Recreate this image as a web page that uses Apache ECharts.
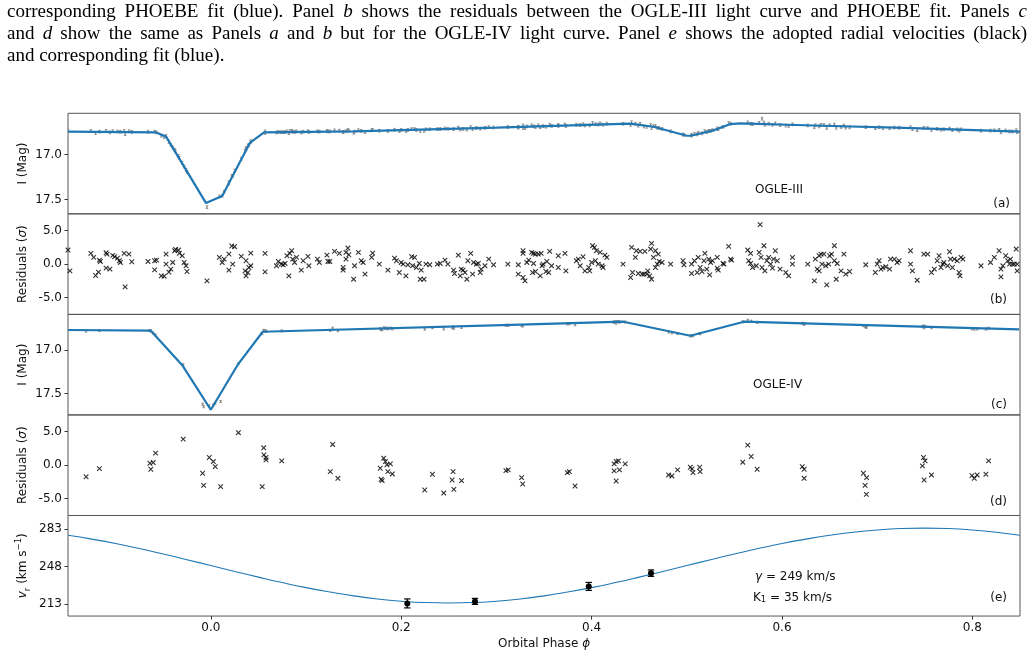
<!DOCTYPE html>
<html><head><meta charset="utf-8">
<script src="https://cdn.jsdelivr.net/npm/echarts@6/dist/echarts.min.js"></script>
<style>html,body{margin:0;padding:0;background:#fff}#c{width:1035px;height:657px}</style>
</head><body><div id="c"></div>
<script>
// ---------- tick labels ----------
const phaseTicks = [0.0, 0.2, 0.4, 0.6, 0.8];
const magTicks = [17.0, 17.5];
const residTicks = [-5.0, 0.0, 5.0];
const rvTicks = [213, 248, 283];

// ---------- OGLE-III ----------
const ogle3Model = [[-0.15,16.745],[-0.058,16.752],[-0.047,16.80],[-0.005,17.54],[0.012,17.46],[0.041,16.87],[0.056,16.752],[0.15,16.742],[0.30,16.70],[0.44,16.655],[0.465,16.69],[0.50,16.79],[0.504,16.79],[0.528,16.73],[0.546,16.66],[0.556,16.653],[0.633,16.676],[0.738,16.706],[0.85,16.745]];
const ogle3Obs = [[-0.150,16.733],[-0.126,16.737],[-0.121,16.760],[-0.117,16.744],[-0.110,16.736],[-0.106,16.753],[-0.103,16.739],[-0.098,16.742],[-0.095,16.746],[-0.091,16.737],[-0.090,16.772],[-0.086,16.738],[-0.083,16.746],[-0.066,16.745],[-0.059,16.744],[-0.057,16.752],[-0.052,16.790],[-0.049,16.804],[-0.047,16.790],[-0.044,16.861],[-0.042,16.893],[-0.040,16.921],[-0.038,16.945],[-0.037,16.961],[-0.034,17.014],[-0.033,17.036],[-0.030,17.091],[-0.028,17.133],[-0.026,17.172],[-0.025,17.196],[-0.004,17.585],[0.009,17.467],[0.012,17.458],[0.014,17.414],[0.019,17.307],[0.019,17.324],[0.022,17.238],[0.023,17.236],[0.025,17.178],[0.032,17.045],[0.036,16.958],[0.037,16.927],[0.037,16.943],[0.039,16.899],[0.040,16.894],[0.042,16.850],[0.042,16.864],[0.057,16.741],[0.057,16.760],[0.069,16.753],[0.071,16.748],[0.074,16.750],[0.076,16.751],[0.078,16.749],[0.080,16.741],[0.082,16.761],[0.083,16.738],[0.085,16.735],[0.086,16.744],[0.088,16.747],[0.090,16.741],[0.095,16.754],[0.097,16.744],[0.102,16.739],[0.103,16.749],[0.112,16.741],[0.114,16.744],[0.122,16.735],[0.123,16.742],[0.125,16.742],[0.130,16.731],[0.135,16.733],[0.139,16.747],[0.139,16.750],[0.142,16.738],[0.144,16.726],[0.145,16.733],[0.150,16.758],[0.151,16.744],[0.155,16.728],[0.158,16.736],[0.162,16.749],[0.169,16.729],[0.170,16.724],[0.177,16.734],[0.186,16.737],[0.193,16.723],[0.198,16.737],[0.200,16.725],[0.205,16.738],[0.207,16.726],[0.211,16.716],[0.214,16.716],[0.216,16.726],[0.220,16.737],[0.224,16.736],[0.226,16.719],[0.230,16.718],[0.238,16.716],[0.241,16.715],[0.246,16.709],[0.249,16.712],[0.255,16.717],[0.260,16.700],[0.262,16.720],[0.265,16.714],[0.269,16.722],[0.273,16.694],[0.275,16.715],[0.279,16.703],[0.283,16.711],[0.288,16.701],[0.292,16.694],[0.297,16.698],[0.312,16.693],[0.323,16.690],[0.323,16.700],[0.328,16.703],[0.330,16.706],[0.328,16.675],[0.332,16.686],[0.337,16.674],[0.339,16.685],[0.341,16.693],[0.344,16.673],[0.346,16.695],[0.349,16.682],[0.352,16.689],[0.356,16.667],[0.358,16.680],[0.365,16.669],[0.365,16.681],[0.372,16.664],[0.373,16.682],[0.384,16.668],[0.388,16.671],[0.391,16.662],[0.393,16.676],[0.398,16.675],[0.401,16.648],[0.404,16.662],[0.407,16.665],[0.409,16.652],[0.412,16.667],[0.416,16.655],[0.433,16.657],[0.441,16.670],[0.442,16.640],[0.446,16.656],[0.449,16.678],[0.451,16.657],[0.455,16.687],[0.458,16.691],[0.462,16.670],[0.463,16.703],[0.465,16.683],[0.467,16.682],[0.469,16.701],[0.471,16.704],[0.474,16.714],[0.483,16.741],[0.496,16.775],[0.497,16.781],[0.505,16.779],[0.505,16.789],[0.508,16.769],[0.511,16.775],[0.512,16.757],[0.516,16.764],[0.519,16.738],[0.521,16.750],[0.523,16.736],[0.525,16.736],[0.527,16.728],[0.532,16.707],[0.533,16.717],[0.538,16.691],[0.544,16.649],[0.546,16.655],[0.564,16.641],[0.567,16.656],[0.569,16.661],[0.576,16.647],[0.579,16.600],[0.581,16.642],[0.582,16.668],[0.586,16.655],[0.590,16.668],[0.593,16.651],[0.598,16.671],[0.604,16.677],[0.607,16.681],[0.611,16.663],[0.627,16.675],[0.634,16.695],[0.635,16.673],[0.639,16.686],[0.641,16.669],[0.644,16.670],[0.647,16.703],[0.650,16.673],[0.655,16.665],[0.657,16.701],[0.662,16.693],[0.665,16.676],[0.667,16.699],[0.671,16.697],[0.688,16.695],[0.698,16.706],[0.702,16.695],[0.706,16.704],[0.713,16.707],[0.718,16.699],[0.723,16.701],[0.735,16.695],[0.737,16.717],[0.742,16.728],[0.749,16.702],[0.753,16.704],[0.757,16.725],[0.763,16.714],[0.767,16.723],[0.770,16.718],[0.776,16.709],[0.779,16.727],[0.784,16.720],[0.786,16.734],[0.788,16.719],[0.809,16.734],[0.819,16.733],[0.823,16.730],[0.828,16.724],[0.830,16.752],[0.835,16.731],[0.839,16.742],[0.842,16.742],[0.846,16.728],[0.847,16.751]];
const ogle3ErrMag = 0.015;
const ogle3Resid = [[-0.150,2.1],[-0.148,-1.0],[-0.126,1.6],[-0.123,1.0],[-0.121,-1.7],[-0.118,-1.2],[-0.117,0.6],[-0.116,0.4],[-0.110,1.7],[-0.109,1.5],[-0.110,-0.6],[-0.106,-0.75],[-0.103,1.3],[-0.101,1.1],[-0.098,0.9],[-0.096,0.5],[-0.095,0.25],[-0.091,1.6],[-0.090,-3.4],[-0.086,1.5],[-0.083,0.35],[-0.066,0.4],[-0.059,0.5],[-0.059,-0.85],[-0.057,0.6],[-0.052,-1.75],[-0.049,-1.8],[-0.047,1.5],[-0.047,0],[-0.044,-1.2],[-0.042,-0.75],[-0.040,0.25],[-0.038,2.0],[-0.037,2.2],[-0.034,2.1],[-0.033,1.6],[-0.030,1.25],[-0.028,0.25],[-0.026,-0.25],[-0.025,-1.1],[-0.004,-2.5],[0.009,1.0],[0.012,0.25],[0.014,0.75],[0.019,1.5],[0.019,-0.9],[0.022,2.7],[0.025,2.6],[0.023,0],[0.032,1.15],[0.037,0.5],[0.036,-1.0],[0.037,-1.75],[0.040,-0.5],[0.039,-1.25],[0.042,1.65],[0.042,-0.25],[0.057,1.6],[0.057,-1.15],[0.069,-0.25],[0.071,0.4],[0.074,0],[0.076,-0.1],[0.078,0.1],[0.080,1.25],[0.082,-1.75],[0.083,1.6],[0.085,2.0],[0.086,0.75],[0.088,0.25],[0.090,1.0],[0.095,-0.9],[0.097,0.5],[0.102,1.15],[0.103,-0.25],[0.112,0.75],[0.114,0.25],[0.122,1.35],[0.123,0.4],[0.125,0.4],[0.130,1.9],[0.135,1.6],[0.139,-0.5],[0.139,-0.9],[0.142,0.75],[0.144,2.4],[0.142,1.75],[0.145,1.4],[0.150,-2.25],[0.151,-0.25],[0.155,1.75],[0.158,0.5],[0.160,0.25],[0.162,-1.5],[0.169,1.0],[0.170,1.65],[0.177,0],[0.186,-0.9],[0.193,0.9],[0.195,0.5],[0.198,-1.25],[0.200,0.25],[0.202,0],[0.205,-1.75],[0.207,-0.1],[0.211,1.1],[0.214,1.0],[0.212,-0.25],[0.216,-0.5],[0.219,0.1],[0.220,-2.25],[0.224,-2.25],[0.221,-0.9],[0.226,0],[0.230,-0.1],[0.238,0],[0.241,0.1],[0.246,0.6],[0.249,0],[0.255,-0.9],[0.256,-1.4],[0.260,1.35],[0.262,-1.75],[0.263,-0.75],[0.265,-0.9],[0.267,-1.25],[0.269,-2.25],[0.270,0.5],[0.273,1.6],[0.275,-1.5],[0.276,0.25],[0.279,0],[0.281,0.1],[0.283,-1.25],[0.284,-0.75],[0.288,-0.25],[0.292,0.75],[0.297,-0.1],[0.312,0],[0.323,-0.1],[0.323,-1.5],[0.328,-2.0],[0.330,-2.5],[0.328,2.0],[0.328,1.6],[0.332,0.25],[0.334,0.6],[0.337,1.75],[0.339,1.6],[0.339,0.1],[0.338,-1.25],[0.341,-1.1],[0.341,1.5],[0.344,1.5],[0.346,-1.75],[0.347,1.6],[0.348,-0.25],[0.349,0],[0.352,-1.1],[0.353,0.4],[0.355,-1.25],[0.356,1.9],[0.358,-0.25],[0.365,1.25],[0.365,-0.5],[0.372,1.6],[0.373,-1.0],[0.384,0.5],[0.386,0.75],[0.388,-0.25],[0.391,1.1],[0.393,-1.0],[0.397,-0.5],[0.398,-1.0],[0.400,0.25],[0.401,2.75],[0.403,2.5],[0.404,0.5],[0.405,2.0],[0.407,0],[0.409,1.75],[0.411,-0.25],[0.412,-0.5],[0.414,1.35],[0.416,1.0],[0.433,0],[0.441,-2.0],[0.442,2.5],[0.443,-1.25],[0.446,1.0],[0.447,2.0],[0.449,-1.4],[0.451,1.9],[0.453,-1.5],[0.455,-1.5],[0.456,1.9],[0.458,-1.5],[0.459,-1.0],[0.461,-1.75],[0.462,2.25],[0.463,3.1],[0.463,-2.25],[0.465,1.0],[0.467,2.0],[0.467,-0.5],[0.469,0],[0.470,1.5],[0.471,0.4],[0.474,0.25],[0.483,0],[0.496,0.5],[0.497,-0.1],[0.505,0],[0.505,-1.4],[0.508,0.5],[0.511,-1.25],[0.512,1.0],[0.514,-0.5],[0.516,-1.1],[0.518,0.5],[0.519,1.6],[0.521,-0.75],[0.523,0.75],[0.524,-1.6],[0.525,0.25],[0.527,0.5],[0.532,1.0],[0.532,-0.6],[0.533,-0.9],[0.538,0.1],[0.539,0],[0.544,2.65],[0.546,0.75],[0.547,0.6],[0.564,2.1],[0.565,0.5],[0.567,0.1],[0.567,1.6],[0.569,-0.5],[0.573,-0.25],[0.576,1.75],[0.577,5.9],[0.578,1.0],[0.579,-0.5],[0.581,2.75],[0.582,-1.0],[0.584,0.5],[0.586,1.0],[0.588,0],[0.590,-0.6],[0.593,2.0],[0.591,0.75],[0.595,0.5],[0.598,-0.75],[0.604,-1.25],[0.607,-1.75],[0.611,1.0],[0.611,0],[0.627,0],[0.634,-2.5],[0.635,0.75],[0.637,-0.75],[0.639,-1.0],[0.639,1.25],[0.641,1.5],[0.642,0],[0.644,1.5],[0.646,-0.25],[0.647,-3.1],[0.649,0],[0.650,1.25],[0.652,1.5],[0.655,2.75],[0.655,0.5],[0.657,-2.25],[0.658,0.1],[0.662,-1.0],[0.665,1.5],[0.667,-1.5],[0.671,-1.1],[0.688,-0.1],[0.698,-1.25],[0.700,0],[0.702,0.5],[0.704,-0.75],[0.706,-0.5],[0.709,-0.4],[0.713,-0.75],[0.714,0.75],[0.718,0.75],[0.721,0.25],[0.723,0.5],[0.735,2.0],[0.735,0],[0.737,-1.0],[0.742,-2.4],[0.749,1.5],[0.753,1.5],[0.757,-1.25],[0.760,-0.75],[0.763,0.5],[0.765,1.25],[0.767,-0.5],[0.769,0],[0.770,0.25],[0.774,-0.25],[0.776,1.85],[0.777,0.75],[0.779,-0.5],[0.781,0.75],[0.784,0.5],[0.786,-1.25],[0.788,1.0],[0.790,0.75],[0.787,-1.75],[0.809,-0.25],[0.819,0.25],[0.823,1.0],[0.828,2.0],[0.830,-0.75],[0.830,-1.9],[0.832,-0.25],[0.835,1.25],[0.837,0.5],[0.839,0],[0.840,0.75],[0.842,0],[0.844,0],[0.846,2.25],[0.847,-1.0],[0.847,0]];

// ---------- OGLE-IV ----------
const ogle4Model = [[-0.15,16.769],[-0.063,16.777],[-0.03,17.173],[0.0,17.684],[0.028,17.173],[0.0545,16.789],[0.325,16.707],[0.4335,16.674],[0.5037,16.835],[0.56,16.674],[0.623,16.693],[0.849,16.761]];
const ogle4Obs = [[-0.131,16.781],[-0.117,16.775],[-0.064,16.775],[-0.063,16.781],[-0.0605,16.803],[-0.058,16.826],[-0.029,17.167],[-0.0086,17.62],[-0.0075,17.65],[-0.0016,17.64],[0.0026,17.63],[0.0047,17.61],[0.0103,17.59],[0.029,17.154],[0.054,16.81],[0.0556,16.773],[0.0558,16.780],[0.058,16.781],[0.058,16.783],[0.0745,16.779],[0.1255,16.773],[0.128,16.748],[0.1335,16.777],[0.178,16.755],[0.179,16.764],[0.180,16.765],[0.1816,16.745],[0.1834,16.747],[0.185,16.749],[0.186,16.755],[0.1886,16.747],[0.1907,16.756],[0.2247,16.759],[0.2328,16.743],[0.2447,16.756],[0.2535,16.742],[0.2545,16.734],[0.2553,16.750],[0.2634,16.740],[0.31,16.716],[0.3124,16.715],[0.3265,16.717],[0.3276,16.723],[0.3745,16.699],[0.3766,16.697],[0.3826,16.708],[0.4237,16.676],[0.4258,16.673],[0.4282,16.672],[0.4237,16.682],[0.4293,16.679],[0.4353,16.677],[0.4258,16.690],[0.4809,16.792],[0.4844,16.801],[0.4903,16.809],[0.5037,16.837],[0.5055,16.833],[0.5065,16.834],[0.5135,16.809],[0.514,16.812],[0.564,16.657],[0.5676,16.668],[0.5588,16.674],[0.5739,16.682],[0.6213,16.693],[0.6233,16.695],[0.6233,16.704],[0.6855,16.719],[0.6889,16.724],[0.6873,16.731],[0.6886,16.739],[0.7486,16.724],[0.7503,16.727],[0.7475,16.731],[0.7493,16.744],[0.757,16.742],[0.7995,16.755],[0.802,16.759],[0.805,16.757],[0.8142,16.759],[0.817,16.748]];
const ogle4ErrMag = 0.012;
const ogle4Resid = [[-0.131,-1.72],[-0.117,-0.5],[-0.064,0.3],[-0.063,-0.6],[-0.0605,0.4],[-0.058,1.8],[-0.029,3.9],[-0.0086,-1.2],[-0.0075,-3.0],[-0.0016,1.15],[0.0026,0.55],[0.0047,-0.2],[0.0103,-3.2],[0.029,4.85],[0.054,-3.2],[0.0556,2.6],[0.0558,1.55],[0.058,1.15],[0.058,0.8],[0.0745,0.65],[0.1255,-0.95],[0.128,3.1],[0.1335,-1.95],[0.178,-0.45],[0.179,-2.1],[0.180,-2.3],[0.1816,1.05],[0.1834,0.55],[0.185,0.05],[0.186,-0.95],[0.1886,0.2],[0.1907,-1.3],[0.2247,-3.7],[0.2328,-1.35],[0.2447,-4.15],[0.2535,-2.2],[0.2545,-0.95],[0.2553,-3.6],[0.2634,-2.3],[0.31,-0.8],[0.3124,-0.7],[0.3265,-1.85],[0.3276,-2.8],[0.3745,-1.1],[0.3766,-0.95],[0.3826,-3.1],[0.4237,0.2],[0.4258,0.55],[0.4282,0.65],[0.4237,-0.85],[0.4293,-0.7],[0.4353,0.2],[0.4258,-2.35],[0.4809,-1.45],[0.4844,-1.6],[0.4903,-0.7],[0.5037,-0.3],[0.5055,-0.55],[0.5065,-1.1],[0.5135,-0.3],[0.514,-0.95],[0.564,3.0],[0.5676,1.3],[0.5588,0.45],[0.5739,-0.6],[0.6213,-0.2],[0.6233,-0.6],[0.6233,-1.95],[0.6855,-1.2],[0.6889,-1.85],[0.6873,-3.0],[0.6886,-4.35],[0.7486,1.15],[0.7503,0.65],[0.7475,-0.1],[0.7493,-2.2],[0.757,-1.45],[0.7995,-1.55],[0.802,-1.95],[0.805,-1.45],[0.8142,-1.35],[0.817,0.65]];

// ---------- radial velocities ----------
const rvModel = [[-0.15,277.3],[-0.125,273.7],[-0.1,269.6],[-0.075,264.9],[-0.05,259.8],[-0.025,254.5],[0,249.0],[0.025,243.5],[0.05,238.2],[0.075,233.1],[0.1,228.4],[0.125,224.3],[0.15,220.7],[0.175,217.8],[0.2,215.7],[0.225,214.4],[0.25,214.0],[0.275,214.4],[0.3,215.7],[0.325,217.8],[0.35,220.7],[0.375,224.3],[0.4,228.4],[0.425,233.1],[0.45,238.2],[0.475,243.5],[0.5,249.0],[0.525,254.5],[0.55,259.8],[0.575,264.9],[0.6,269.6],[0.625,273.7],[0.65,277.3],[0.675,280.2],[0.7,282.3],[0.725,283.6],[0.75,284.0],[0.775,283.6],[0.8,282.3],[0.825,280.2],[0.85,277.3]];
const rvObs = [[0.2064,213.6,4.2],[0.2775,215.5,2.8],[0.397,229.5,3.7],[0.4624,241.9,3.0]];

// ---------- caption ----------
const captionLines = [
  'corresponding PHOEBE fit (blue). Panel _b_ shows the residuals between the OGLE-III light curve and PHOEBE fit. Panels _c_',
  'and _d_ show the same as Panels _a_ and _b_ but for the OGLE-IV light curve. Panel _e_ shows the adopted radial velocities (black)',
  'and corresponding fit (blue).'
];

// ---------- layout ----------
const GL = 68, GW = 952, GH = 100.55, GT0 = 113.3;
const tops = [0,1,2,3,4].map(i => GT0 + i * GH);
const SANS = 'DejaVu Sans';
const CAP = {left: 7, right: 1027, ys: [12, 34, 56], size: 19, fam: 'Liberation Serif'};

function buildCaption() {
  const ctx = document.createElement('canvas').getContext('2d');
  const els = [];
  captionLines.forEach((line, li) => {
    const words = line.split(' ').map(w => {
      const it = /^_.*_$/.test(w);
      const t = it ? w.slice(1, -1) : w;
      ctx.font = (it ? 'italic ' : '') + CAP.size + 'px "' + CAP.fam + '"';
      return {t, it, w: ctx.measureText(t).width};
    });
    ctx.font = CAP.size + 'px "' + CAP.fam + '"';
    const sp = ctx.measureText(' ').width;
    const total = words.reduce((s, w) => s + w.w, 0);
    const justify = li < captionLines.length - 1;
    const gap = justify ? (CAP.right - CAP.left - total) / (words.length - 1) : sp;
    let x = CAP.left;
    words.forEach(w => {
      els.push({type: 'text', x: x, y: CAP.ys[li], silent: true,
        style: {text: w.t, fontSize: CAP.size, fontFamily: CAP.fam, fontStyle: w.it ? 'italic' : 'normal', fill: '#000', verticalAlign: 'middle'}});
      x += w.w + gap;
    });
  });
  return els;
}

function errBars(color, lw, cap, constErr, dot) {
  return function (params, api) {
    const x = api.value(0), y = api.value(1);
    const e = constErr != null ? constErr : api.value(2);
    const p1 = api.coord([x, y - e]), p2 = api.coord([x, y + e]), pc = api.coord([x, y]);
    const st = {stroke: color, lineWidth: lw};
    const ch = [
      {type: 'line', shape: {x1: p1[0], y1: p1[1], x2: p2[0], y2: p2[1]}, style: st},
      {type: 'line', shape: {x1: p1[0] - cap, y1: p1[1], x2: p1[0] + cap, y2: p1[1]}, style: st},
      {type: 'line', shape: {x1: p2[0] - cap, y1: p2[1], x2: p2[0] + cap, y2: p2[1]}, style: st}
    ];
    if (dot) ch.push({type: 'circle', shape: {cx: pc[0], cy: pc[1], r: dot}, style: {fill: color}});
    return {type: 'group', children: ch};
  };
}

const xMark = 'path://M0,0L10,10M10,0L0,10';

const grids = tops.map(t => ({left: GL, width: GW, top: t, height: GH, show: true, borderColor: '#555', borderWidth: 1, backgroundColor: 'transparent'}));

const xAxes = tops.map((t, i) => ({
  gridIndex: i, type: 'value', min: -0.15, max: 0.85, position: 'bottom',
  axisLine: {show: false, onZero: false}, splitLine: {show: false},
  axisTick: {show: i === 4, customValues: phaseTicks, length: 3.5, lineStyle: {color: '#333', width: 1}},
  axisLabel: {show: i === 4, customValues: phaseTicks, formatter: v => v.toFixed(1), fontSize: 12, fontFamily: SANS, color: '#111', margin: 6},
  name: i === 4 ? 'Orbital Phase {i|ϕ}' : '', nameLocation: 'middle', nameGap: 22, nameMoveOverlap: false,
  nameTextStyle: {fontSize: 12, fontFamily: SANS, color: '#111', rich: {i: {fontSize: 12, fontFamily: SANS, fontStyle: 'italic', color: '#111'}}}
}));

const fmt1 = v => v.toFixed(1);
function yAx(i, min, max, inverse, ticks, fmt, name, rich) {
  return {
    gridIndex: i, type: 'value', min: min, max: max, inverse: inverse, position: 'left',
    axisLine: {show: false, onZero: false}, splitLine: {show: false},
    axisTick: {show: true, customValues: ticks, length: 3.5, lineStyle: {color: '#333', width: 1}},
    axisLabel: {customValues: ticks, formatter: fmt, fontSize: 12, fontFamily: SANS, color: '#111', margin: 6},
    name: name, nameLocation: 'middle', nameGap: 36, nameMoveOverlap: false,
    nameTextStyle: {fontSize: 12, fontFamily: SANS, color: '#111', lineHeight: 18, rich: rich}
  };
}
const richSig = {i: {fontSize: 12, fontFamily: SANS, fontStyle: 'italic', color: '#111'}};
const richV = {
  i: {fontSize: 12, fontFamily: SANS, fontStyle: 'italic', lineHeight: 18, color: '#111'},
  sub: {fontSize: 8.5, fontFamily: SANS, verticalAlign: 'bottom', lineHeight: 11, color: '#111'},
  sup: {fontSize: 8.5, fontFamily: SANS, verticalAlign: 'top', lineHeight: 11, color: '#111'}
};
const yAxes = [
  yAx(0, 16.54, 17.66, true, magTicks, fmt1, 'I (Mag)'),
  yAx(1, -7.5, 7.5, false, residTicks, fmt1, 'Residuals ({i|σ})', richSig),
  yAx(2, 16.59, 17.744, true, magTicks, fmt1, 'I (Mag)'),
  yAx(3, -7.5, 7.5, false, residTicks, fmt1, 'Residuals ({i|σ})', richSig),
  yAx(4, 201.8, 295.8, false, rvTicks, v => String(Math.round(v)), '{i|v}{sub|r} (km s{sup|−1})', richV)
];

const BLUE = '#1f77b4';
const series = [
  {type: 'custom', xAxisIndex: 0, yAxisIndex: 0, data: ogle3Obs, renderItem: errBars('#808080', 0.8, 1.3, ogle3ErrMag, 0.7), silent: true, z: 2, clip: true},
  {type: 'line', xAxisIndex: 0, yAxisIndex: 0, data: ogle3Model, symbol: 'none', lineStyle: {color: BLUE, width: 2.2}, z: 3, silent: true},
  {type: 'scatter', xAxisIndex: 1, yAxisIndex: 1, data: ogle3Resid, symbol: xMark, symbolSize: 4.6, itemStyle: {color: 'rgba(0,0,0,0)', borderColor: '#000', borderWidth: 1.1}, silent: true},
  {type: 'custom', xAxisIndex: 2, yAxisIndex: 2, data: ogle4Obs, renderItem: errBars('#808080', 0.8, 1.3, ogle4ErrMag, 0.7), silent: true, z: 2, clip: true},
  {type: 'line', xAxisIndex: 2, yAxisIndex: 2, data: ogle4Model, symbol: 'none', lineStyle: {color: BLUE, width: 2.2}, z: 3, silent: true},
  {type: 'scatter', xAxisIndex: 3, yAxisIndex: 3, data: ogle4Resid, symbol: xMark, symbolSize: 4.6, itemStyle: {color: 'rgba(0,0,0,0)', borderColor: '#000', borderWidth: 1.1}, silent: true},
  {type: 'line', xAxisIndex: 4, yAxisIndex: 4, data: rvModel, symbol: 'none', smooth: true, lineStyle: {color: BLUE, width: 1.1}, silent: true},
  {type: 'custom', xAxisIndex: 4, yAxisIndex: 4, data: rvObs, renderItem: errBars('#000', 1.2, 3.2, null, 3), silent: true, z: 4}
];

const lbl = (x, y, text, align, rich) => ({type: 'text', x, y, silent: true, z: 10,
  style: {text, fontSize: 12, fontFamily: SANS, fill: '#111', align: align || 'left', verticalAlign: 'middle', rich: rich}});
const richE = {i: {fontSize: 12, fontFamily: SANS, fontStyle: 'italic', fill: '#111'}, sub: {fontSize: 8.5, fontFamily: SANS, verticalAlign: 'bottom', lineHeight: 10, fill: '#111'}};

const graphics = buildCaption().concat([
  lbl(755, 190, 'OGLE-III'),
  lbl(1010, 204, '(a)', 'right'),
  lbl(1007, 300, '(b)', 'right'),
  lbl(753, 385, 'OGLE-IV'),
  lbl(1007, 405, '(c)', 'right'),
  lbl(1007, 502, '(d)', 'right'),
  lbl(755, 577, '{i|γ} = 249 km/s', 'left', richE),
  lbl(753, 598, 'K{sub|1} = 35 km/s', 'left', richE),
  lbl(1007, 598, '(e)', 'right')
]);

const chart = echarts.init(document.getElementById('c'), null, {renderer: 'canvas'});
chart.setOption({
  animation: false, backgroundColor: '#fff',
  grid: grids, xAxis: xAxes, yAxis: yAxes, series: series, graphic: graphics
});
</script></body></html>
